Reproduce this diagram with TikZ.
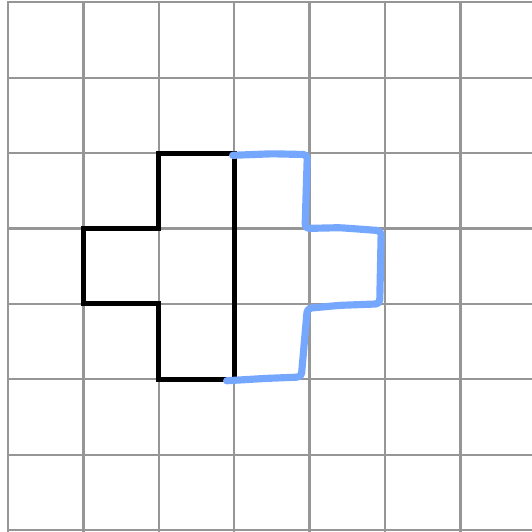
\documentclass[tikz,border=0pt]{standalone}
\usepackage{tikz}
\definecolor{penblue}{RGB}{118,167,255}
\definecolor{gridgray}{RGB}{150,150,150}

\begin{document}
\begin{tikzpicture}[
  gridline/.style={draw=gridgray, line width=0.85pt, line cap=rect},
  outline/.style={draw=black, line width=1.9pt, line join=miter},
  sketch/.style={draw=penblue, line width=2.7pt, line cap=round, line join=round, rounded corners=1.5pt}
]
\useasboundingbox (-0.106,-0.015) rectangle (6.95,7.03);
% grid of squares
\foreach \i in {0,...,7} {
  \draw[gridline] (\i,-0.1) -- (\i,7);
  \draw[gridline] (0,\i) -- (7.1,\i);
}
% original figure
\coordinate (a) at (2,5);
\coordinate (b) at (3,5);
\coordinate (c) at (3,2);
\coordinate (d) at (2,2);
\draw[outline] (a) -- (b) -- (c) -- (d) -- (2,3) -- (1,3) -- (1,4) -- (2,4) -- cycle;
% hand-drawn reflection
\draw[sketch] (2.98,4.97) -- (3.5,4.99) -- (3.97,4.98) -- (3.94,4.0)
  -- (4.4,4.01) -- (4.95,3.97) -- (4.93,3.0) -- (4.4,2.98) -- (3.97,2.94)
  -- (3.89,2.03) -- (3.4,2.01) -- (2.9,1.98);
\end{tikzpicture}
\end{document}
